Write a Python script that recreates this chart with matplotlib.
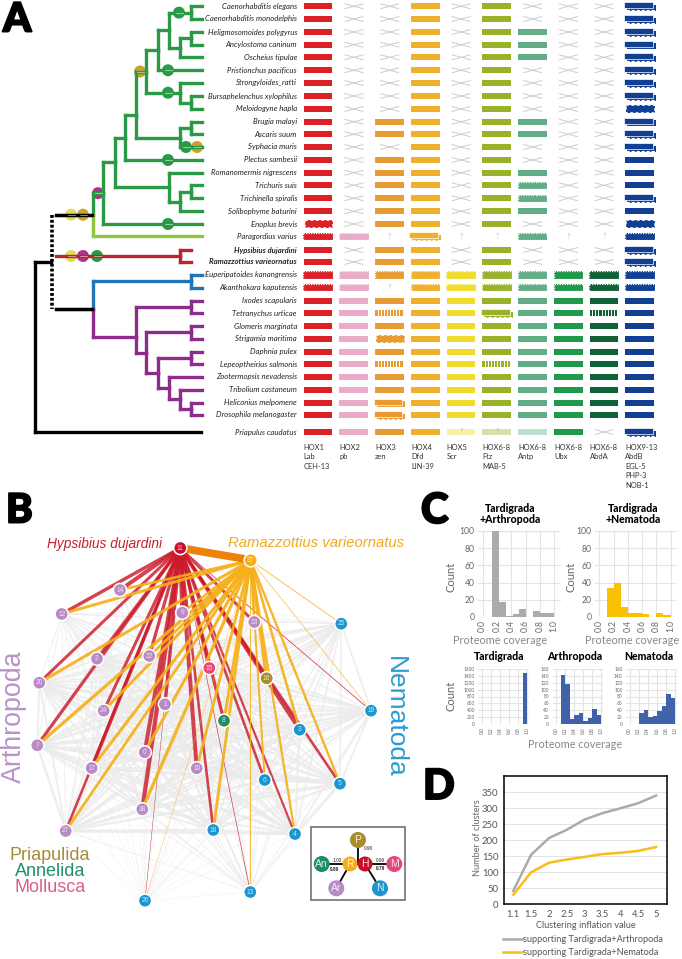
import numpy as np
import matplotlib
matplotlib.use("Agg")
import matplotlib.pyplot as plt
import matplotlib.patheffects as pe
from matplotlib.patches import Rectangle, Circle
from itertools import combinations

plt.rcParams['font.family'] = ['Lato', 'DejaVu Sans']

W, H = 682, 959

# ---------- panel A data ----------
species = ["Caenorhabditis elegans", "Caenorhabditis monodelphis", "Heligmosomoides polygyrus",
           "Ancylostoma caninum", "Oscheius tipulae", "Pristionchus pacificus", "Strongyloides_ratti",
           "Bursaphelenchus xylophilus", "Meloidogyne hapla", "Brugia malayi", "Ascaris suum",
           "Syphacia muris", "Plectus sambesii", "Romanomermis nigrescens", "Trichuris suis",
           "Trichinella spiralis", "Solibophyme baturini", "Enoplus brevis", "Paragordius varius",
           "Hypsibius dujardini", "Ramazzottius varieornatus", "Euperipatoides kanangrensis",
           "Akanthokara kaputensis", "Ixodes scapularis", "Tetranychus urticae", "Glomeris marginata",
           "Strigamia maritima", "Daphnia pulex", "Lepeoptheirius salmonis", "Zootermopsis nevadensis",
           "Tribolium castaneum", "Heliconius melpomene", "Drosophila melanogaster", "Priapulus caudatus"]
hox_labels = [["HOX1", "Lab", "CEH-13"], ["HOX2", "pb"], ["HOX3", "zen"], ["HOX4", "Dfd", "LIN-39"],
              ["HOX5", "Scr"], ["HOX6-8", "Ftz", "MAB-5"], ["HOX6-8", "Antp"], ["HOX6-8", "Ubx"],
              ["HOX6-8", "AbdA"], ["HOX9-13", "AbdB", "EGL-5", "PHP-3", "NOB-1"]]
hox_colors = ["#DA2128", "#E8ACC8", "#E99B33", "#EFB02C", "#F0DC2C",
              "#98B22C", "#62AD85", "#22994A", "#0E6235", "#113F94"]
# P solid, X absent, ? unknown, D duplicated, F fragment, Z jagged, S stripes, L low
hox_states = ["PXXPXPXXXD", "PXXPXPXXXD", "PXXPXPPXXD", "PXXPXPPXXD", "PXXPXPPXXD",
              "PXXPXPXXXD", "PXXPXPXXXD", "PXXPXPXXXD", "PXXPXPXXXZ", "PXPPXPPXXD",
              "PXPPXPPXXD", "PXXPXPXXXD", "PXPPXPXXXP", "PXPPXPPXXP", "PXPPXPFXXP",
              "PXPPXPFXXD", "PXPPXPPXXP", "ZXPPXPXXXZ", "FF?D??F??F", "PXPPXPXXXD",
              "PXPPXPXXXD", "FFFFFFFFFF", "FF?FFFFFFF", "PPPPPPPPPP", "PPSPPDPPSP",
              "PPPPPPPPPP", "PPZPPPPPPP", "PPPPPPPPPP", "PPSPPSPPPP", "PPPPPPPPPP",
              "PPPPPPPPPP", "PPDPPPPPPP", "PPDPPPPPPP", "PPPPLLLPXD"]
row_y = [6.3, 19, 32, 44.7, 57.3, 70.3, 83, 96, 109, 121.7, 134.3, 147, 160, 172.7, 185.3, 198.3, 211.3,
         224, 236.3, 250, 262, 275, 287.7, 300.7, 313.3, 326, 338.7, 351.7, 364, 377, 390, 402.7, 415, 432]

GREEN, LIME, RED, BLUE, PURPLE = "#2A9A46", "#8DC63F", "#B7282E", "#1F75B8", "#8E2C8E"
DOT_G, DOT_Y, DOT_O, DOT_M = "#2A9A46", "#E3DB5A", "#C9A227", "#A9358F"


def tip(row, color=None, end=201.7, dots=()):
    return dict(row=row, color=color, end=end, dots=dots)


def node(x, *kids, y=None, color=None, dots=()):
    return dict(x=x, kids=kids, y=y, color=color, dots=dots)


nematodes = node(93,
    node(103,
        node(115,
            node(125,
                node(136,
                    node(146,
                        node(158,
                            node(169, node(191, tip(0), tip(1), dots=[(179, DOT_G)]),
                                 node(180, node(191, tip(2), tip(3)), tip(4))),
                            tip(5, dots=[(168, DOT_G)])),
                        node(180, tip(6), node(191, tip(7), tip(8)), dots=[(168, DOT_G)]),
                        dots=[(140, DOT_O)]),
                    node(180, node(191, tip(9), tip(10)),
                         tip(11, dots=[(186, DOT_G), (197, DOT_O)])),
                    y=115),
                tip(12, dots=[(168, DOT_G)])),
            node(169, tip(13), node(180, node(191, tip(14), tip(15)), tip(16)))),
        tip(17, dots=[(168, DOT_G)]),
        dots=[(98, DOT_M)]),
    tip(18, color=LIME),
    color=GREEN, dots=[(71, DOT_Y), (83, DOT_O)])
tardigrades = node(180, tip(19, end=191), tip(20, end=191), color=RED,
                   dots=[(71, DOT_Y), (83, DOT_M), (97, DOT_G)])
panarthropods = node(93,
    node(191, tip(21), tip(22), color=BLUE),
    node(136, node(191, tip(23), tip(24)),
         node(146, node(191, tip(25), tip(26)),
              node(158, node(191, tip(27), tip(28)),
                   node(169, tip(29), node(180, tip(30), node(191, tip(31), tip(32)))))),
         y=337, color=PURPLE))

# ---------- panel B data ----------
net_names = ["11", "37", "14", "12", "9", "23", "25", "2", "22", "15", "16", "20", "24", "1", "8",
             "19", "3", "7", "0", "17", "10", "6", "5", "38", "27", "18", "4", "13", "26"]
net_x = [180.3, 250.7, 120, 61.7, 182.3, 254.3, 341.3, 97, 149.3, 209.3, 266.7, 39.3, 103.7, 165,
         224, 371, 299.7, 37.3, 144.7, 91.7, 196.7, 264.7, 340, 142.3, 65.7, 213.3, 295, 250.3, 145]
net_y = [548, 560.3, 590, 614, 612.7, 622, 623.7, 658.7, 656, 668, 678.3, 682.7, 710.7, 704.3, 720.7,
         710.7, 729.7, 745.3, 752.3, 768, 768.3, 780, 783.7, 809.3, 831, 830, 834, 892, 900.7]
net_group = ["H", "R", "Ar", "Ar", "Ar", "Ar", "N", "Ar", "Ar", "M", "P", "Ar", "Ar", "Ar", "An",
             "N", "N", "Ar", "Ar", "Ar", "Ar", "N", "N", "Ar", "Ar", "N", "N", "N", "N"]
gray_weight = [0, 0, 0.6, 1.0, 1.0, 0.8, 2.0, 2, 2, 2, 2, 2.6, 2, 2, 2, 2.2, 2.4, 3, 2.5, 2.5, 2.5,
               2.5, 3, 2.5, 3.2, 3, 3.2, 1.0, 0.5]
red_widths = {"14": 4, "12": 3.4, "20": 3, "2": 3.2, "7": 3.2, "22": 3.2, "9": 4.2, "24": 3, "1": 3.4,
              "0": 4, "38": 4.2, "17": 3.6, "10": 4, "15": 3.2, "8": 3.2, "23": 3, "3": 4, "5": 2.6,
              "6": 2.6, "18": 2.6, "4": 2.2, "13": 0.7, "26": 0.5, "27": 2.6, "19": 0.8, "16": 2.4}
orange_widths = {"14": 2.6, "12": 3, "20": 3, "22": 2.6, "24": 3, "7": 3.2, "17": 3, "0": 3, "38": 3.2,
                 "27": 2.8, "10": 2.8, "18": 2.8, "8": 3, "6": 2, "4": 2.2, "5": 2.4, "16": 3.4,
                 "3": 2.6, "23": 2.4, "9": 2.6, "25": 0.8, "19": 0.6, "13": 1, "26": 0.4}
group_colors = dict(H="#C8102E", R="#F5AE1A", Ar="#B98BC4", N="#1D96CF", M="#E5487D", P="#A88C2A", An="#1F8F63")

inset_names = ["P", "An", "R", "H", "M", "Ar", "N"]
inset_x = [358, 321.7, 350, 365, 394.3, 336.3, 380]
inset_y = [840, 864, 864, 864, 864, 888.3, 888.3]
inset_edges = [("P", "H", "0.96", False), ("An", "R", "1.00", False), ("H", "M", "0.99", False),
               ("R", "Ar", "0.89", True), ("H", "N", "0.78", True)]

# ---------- panel C data ----------
ta_counts = [100, 17, 1, 3, 9, 0.5, 7, 5, 5]
tn_counts = [34, 39, 12, 5, 5, 3, 0, 5, 2]
t_counts = [1480]
a_counts = [143, 116, 14, 27, 32, 8, 17, 45, 25]
n_counts = [32, 41, 20, 22, 37, 53, 88, 76]
cov_ticks = [0.0, 0.2, 0.4, 0.6, 0.8, 1.0]

# ---------- panel D data ----------
inflation = ["1.1", "1.5", "2", "2.5", "3", "3.5", "4", "4.5", "5"]
clusters_arth = [42, 155, 207, 233, 265, 285, 300, 316, 340]
clusters_nema = [30, 100, 130, 140, 148, 157, 161, 167, 179]

fig = plt.figure(figsize=(W / 100, H / 100), dpi=100)
ax = fig.add_axes([0, 0, 1, 1])
ax.set_xlim(0, W)
ax.set_ylim(H, 0)
ax.axis("off")


def px_axes(x0, y0, x1, y1):
    return fig.add_axes([x0 / W, 1 - y1 / H, (x1 - x0) / W, (y1 - y0) / H])


def letter(s, x, y, size=30):
    ax.text(x, y, s, fontsize=size, fontweight=900, ha="left", va="center", color="black",
            path_effects=[pe.withStroke(linewidth=1.4, foreground="black")])


letter("A", 3, 20, 29)
letter("B", 6, 511, 29)
letter("C", 421, 511, 30)
letter("D", 423, 787, 30)


# ---------- tree ----------
def node_y(n):
    if "row" in n:
        return row_y[n["row"]]
    ys = [node_y(k) for k in n["kids"]]
    return n["y"] if n["y"] is not None else (ys[0] + ys[-1]) / 2


def seg(xs, ys, color, z=3):
    ax.plot(xs, ys, color=color, lw=2.4, solid_capstyle="projecting", zorder=z)


def draw_clade(n, parent_x, color):
    c = n["color"] or color
    y = node_y(n)
    for dx, dc in n["dots"]:
        ax.add_patch(Circle((dx, y), 6, color=dc, lw=0, zorder=2.5))
        ax.plot([dx - 3.5, dx + 3.5], [y, y], color="white", lw=0.5, alpha=0.7, zorder=4)
    if "row" in n:
        seg([parent_x, n["end"]], [y, y], c)
        return y, c
    seg([parent_x, n["x"]], [y, y], c)
    for k in n["kids"]:
        ky = node_y(k)
        kc = k["color"] or c
        seg([n["x"], n["x"]], [y, ky], kc)
        draw_clade(k, n["x"], c)
    return y, c


STEM_X = 56
y_nem = node_y(nematodes)
y_pan = node_y(panarthropods)
draw_clade(nematodes, STEM_X, GREEN)
draw_clade(tardigrades, STEM_X, RED)
draw_clade(panarthropods, STEM_X, PURPLE)
seg([STEM_X, 92], [y_nem, y_nem], "black", 3.2)
seg([STEM_X, 92], [y_pan, y_pan], "black", 3.2)
ax.plot([51.5, 51.5], [y_nem, y_pan], color="black", lw=2.6, ls=(0, (0.8, 0.55)), zorder=3)
y_root = (y_nem + y_pan) / 2
seg([35, 51], [y_root, y_root], "black")
seg([35, 35], [y_root, row_y[33]], "black")
seg([35, 201], [row_y[33], row_y[33]], "black")

for i, name in enumerate(species):
    bold = i in (19, 20)
    ax.text(297, row_y[i], name, ha="right", va="center", fontsize=5.6, style="italic",
            fontweight="bold" if bold else "normal", color="#222222")

# ---------- hox grid ----------
COL_X0, COL_DX, BAR_W, BAR_H = 303.7, 35.75, 28.7, 6.0


def hox_cell(cx, cy, state, color):
    x0 = cx
    y0 = cy - BAR_H / 2
    if state == "X":
        ax.plot([cx + 5.5, cx + 23.5], [cy - 2.4, cy + 2.4], color="#CCCCCC", lw=0.7)
        ax.plot([cx + 5.5, cx + 23.5], [cy + 2.4, cy - 2.4], color="#CCCCCC", lw=0.7)
    elif state == "?":
        ax.text(cx + BAR_W / 2, cy, "?", ha="center", va="center", fontsize=5, color="#BBBBBB")
    elif state == "P":
        ax.add_patch(Rectangle((x0, y0), BAR_W, BAR_H, color=color, lw=0))
    elif state == "L":
        ax.add_patch(Rectangle((x0, y0), BAR_W, BAR_H, color=color, alpha=0.4, lw=0))
        if color != hox_colors[6]:
            ax.text(cx + BAR_W / 2, cy, "?", ha="center", va="center", fontsize=5, color="#BBBBBB")
    elif state == "F":
        ax.add_patch(Rectangle((x0 - 0.4, y0 - 0.6), BAR_W + 0.8, BAR_H + 1.2, color=color, lw=0))
        ax.add_patch(Rectangle((x0 - 0.4, y0 - 0.6), BAR_W + 0.8, BAR_H + 1.2, fill=False, ec="white",
                               lw=0.9, ls=(0, (1, 1))))
    elif state == "Z":
        ax.add_patch(Rectangle((x0 + 1, y0 - 0.8), BAR_W, BAR_H + 1.6, color=color, lw=0))
        ax.add_patch(Rectangle((x0 + 1, y0 - 0.8), BAR_W, BAR_H + 1.6, fill=False, ec="white",
                               lw=1.1, ls=(0, (2, 1.5))))
    elif state == "S":
        ax.add_patch(Rectangle((x0, y0), BAR_W, BAR_H, color=color, lw=0))
        for sx in np.arange(x0 + 2.5, x0 + BAR_W, 3.1):
            ax.plot([sx, sx], [y0, y0 + BAR_H], color="white", lw=0.7)
    elif state == "D":
        ax.add_patch(Rectangle((x0 + 1.5, y0 + 1.6), BAR_W, BAR_H, color=color, lw=0))
        ax.plot([x0 + 1, x0 + 1.5 + BAR_W], [y0 + BAR_H + 0.8, y0 + BAR_H + 0.8], color="white",
                lw=0.8, ls=(0, (3, 1.5)))
        ax.add_patch(Rectangle((x0 - 1.5, y0 - 1), BAR_W, BAR_H, fc=color, ec="white", lw=0.5))


for r, states in enumerate(hox_states):
    for c, st in enumerate(states):
        hox_cell(COL_X0 + c * COL_DX, row_y[r], st, hox_colors[c])

for c, lines in enumerate(hox_labels):
    for j, line in enumerate(lines):
        ax.text(COL_X0 + c * COL_DX, 447 + j * 9.6, line, ha="left", va="center", fontsize=5.4,
                color="#333333")

# ---------- network ----------
for i, j in combinations(range(2, len(net_names)), 2):
    w = min(gray_weight[i], gray_weight[j])
    ax.plot([net_x[i], net_x[j]], [net_y[i], net_y[j]], color="#EBEBEB", lw=w * 0.6,
            alpha=0.8, zorder=5, solid_capstyle="round")

pos = {n: (net_x[i], net_y[i]) for i, n in enumerate(net_names)}
for name, w in red_widths.items():
    ax.plot([pos["11"][0], pos[name][0]], [pos["11"][1], pos[name][1]], color="#CB1A2A",
            lw=w * 0.72, alpha=0.82, zorder=6)
for name, w in orange_widths.items():
    ax.plot([pos["37"][0], pos[name][0]], [pos["37"][1], pos[name][1]], color="#F6B019",
            lw=w * 0.72, alpha=0.92, zorder=7)
ax.plot([pos["11"][0] + 6, pos["37"][0] - 4], [pos["11"][1] + 1, pos["37"][1] - 1], color="#EC8208",
        lw=5.6, zorder=8)

for i, name in enumerate(net_names):
    col = group_colors[net_group[i]]
    ax.add_patch(Circle((net_x[i], net_y[i]), 6.6, fc=col, ec="white", lw=1.1, zorder=9))
    ax.text(net_x[i], net_y[i], name, ha="center", va="center", fontsize=4.8, color="#FFFFFF",
            alpha=0.75, zorder=10, family="Liberation Sans")

ax.text(104.5, 544, "Hypsibius dujardini", ha="center", va="center", style="italic", fontsize=9.9,
        color="#C8202F", family="Liberation Sans")
ax.text(316, 543, "Ramazzottius varieornatus", ha="center", va="center", style="italic", fontsize=10.7,
        color="#F3A91F", family="Liberation Sans")
ax.text(14, 717, "Arthropoda", rotation=90, ha="center", va="center", fontsize=19.3, color="#B993C7",
        family="Liberation Sans")
ax.text(395, 717, "Nematoda", rotation=270, ha="center", va="center", fontsize=19, color="#2A9BD0",
        family="Liberation Sans")
ax.text(50, 855, "Priapulida", ha="center", va="center", fontsize=13, color="#A68C35",
        family="Liberation Sans")
ax.text(50, 871, "Annelida", ha="center", va="center", fontsize=13, color="#1F9068",
        family="Liberation Sans")
ax.text(50, 887, "Mollusca", ha="center", va="center", fontsize=13, color="#E05B8D",
        family="Liberation Sans")

ax.add_patch(Rectangle((311, 827), 93.7, 73, fc="white", ec="#666666", lw=1.1, zorder=11))
ipos = {n: (inset_x[i], inset_y[i]) for i, n in enumerate(inset_names)}
for a, b, lab, strong in inset_edges:
    ax.plot([ipos[a][0], ipos[b][0] if a != "P" else ipos[a][0]],
            [ipos[a][1], ipos[b][1]], color="black", lw=1.3, zorder=12)
    mx = (ipos[a][0] + ipos[b][0]) / 2
    my = (ipos[a][1] + ipos[b][1]) / 2
    off = {"0.96": (7, -3), "1.00": (1, -4), "0.99": (1, -4), "0.89": (-9, -7), "0.78": (8, -8)}[lab]
    ax.text(mx + off[0], my + off[1], lab, fontsize=3.4, ha="center", va="center", zorder=14,
            fontweight="bold" if strong else "normal", color="#222222", family="Liberation Sans")
for i, name in enumerate(inset_names):
    r = 7.5 if name in ("R", "H") else 8
    ax.add_patch(Circle((inset_x[i], inset_y[i]), r, fc=group_colors[name], ec="none", zorder=13))
    ax.text(inset_x[i], inset_y[i], name, ha="center", va="center", fontsize=7.5, color="white",
            alpha=0.85, zorder=14, family="Liberation Sans")


# ---------- histograms ----------
def hist_panel(box, edges, counts, color, ymax, yticks, xlim, fs):
    a = px_axes(*box)
    a.bar(edges[:-1], counts, width=np.diff(edges), align="edge", color=color, lw=0, zorder=3)
    a.set_xlim(*xlim)
    a.set_ylim(0, ymax)
    a.set_xticks(cov_ticks)
    a.set_xticklabels([f"{t:.1f}" for t in cov_ticks], rotation=90)
    a.set_yticks(yticks)
    a.grid(True, color="#E4E4E4", lw=0.8, zorder=0)
    a.tick_params(length=0, labelsize=fs, colors="#666666", pad=2.5)
    for s in a.spines.values():
        s.set_visible(False)
    return a


xl_top = (-0.06, 1.09)
hist_panel((478.3, 531, 560.7, 617), np.linspace(0.126, 1, 10), ta_counts, "#ABABA8", 100,
           [0, 20, 40, 60, 80, 100], xl_top, 6.2)
hist_panel((595, 531, 677, 617), np.linspace(0.105, 1, 10), tn_counts, "#F8C102", 100,
           [0, 20, 40, 60, 80, 100], xl_top, 6.2)
xl_bot = (-0.08, 1.04)
hist_panel((478.3, 669, 529, 724), [0.91, 1.0], t_counts, "#3F62A9", 1600,
           np.arange(0, 1601, 200), xl_bot, 3.4)
hist_panel((552.5, 669, 603, 724), np.linspace(0.1, 1, 10), a_counts, "#3F62A9", 160,
           np.arange(0, 161, 20), xl_bot, 3.4)
hist_panel((626, 669, 677, 724), np.linspace(0.21, 1, 9), n_counts, "#3F62A9", 160,
           np.arange(0, 161, 20), xl_bot, 3.4)

for tx, tl in [(510, "Tardigrada\n+Arthropoda"), (632.7, "Tardigrada\n+Nematoda")]:
    ax.text(tx, 514, tl, ha="center", va="center", fontsize=7.6, fontweight=900, linespacing=1.05,
            color="black")
for tx, tl in [(499.5, "Tardigrada"), (575, "Arthropoda"), (649, "Nematoda")]:
    ax.text(tx, 656, tl, ha="center", va="center", fontsize=7.6, fontweight=900, color="black")
for cx, cy in [(450.7, 577), (571, 577), (450.7, 695.7)]:
    ax.text(cx, cy, "Count", rotation=90, ha="center", va="center", fontsize=8, color="#666666")
for cx, cy in [(500, 640.5), (632, 640.5), (575, 744)]:
    ax.text(cx, cy, "Proteome coverage", ha="center", va="center", fontsize=7.8, color="#888888")

# ---------- line chart ----------
d = px_axes(504, 776, 667.3, 904.3)
xpos = np.arange(len(inflation))
d.plot(xpos, clusters_arth, color="#ABABAB", lw=1.8, zorder=3)
d.plot(xpos, clusters_nema, color="#F6BE1A", lw=1.8, zorder=3)
d.set_xlim(-0.52, 8.63)
d.set_ylim(0, 401)
d.set_xticks(xpos)
d.set_xticklabels(inflation)
d.set_yticks(np.arange(0, 351, 50))
d.yaxis.grid(True, color="#E2E2E2", lw=0.7, zorder=0)
d.tick_params(length=0, labelsize=6.8, colors="#555555", pad=4)
for s in d.spines.values():
    s.set_color("black")
    s.set_linewidth(1.1)
ax.text(478, 838, "Number of clusters", rotation=90, ha="center", va="center", fontsize=6.6, color="#666666")
ax.text(586, 925.7, "Clustering inflation value", ha="center", va="center", fontsize=6.6, color="#555555")
for ly, lc, lt in [(939, "#ABABAB", "supporting Tardigrada+Arthropoda"),
                   (952.3, "#F6BE1A", "supporting Tardigrada+Nematoda")]:
    ax.plot([502.7, 521.7], [ly, ly], color=lc, lw=1.8)
    ax.text(523.3, ly, lt, ha="left", va="center", fontsize=6.6, color="#555555")

fig.savefig("out.png", dpi=100)
